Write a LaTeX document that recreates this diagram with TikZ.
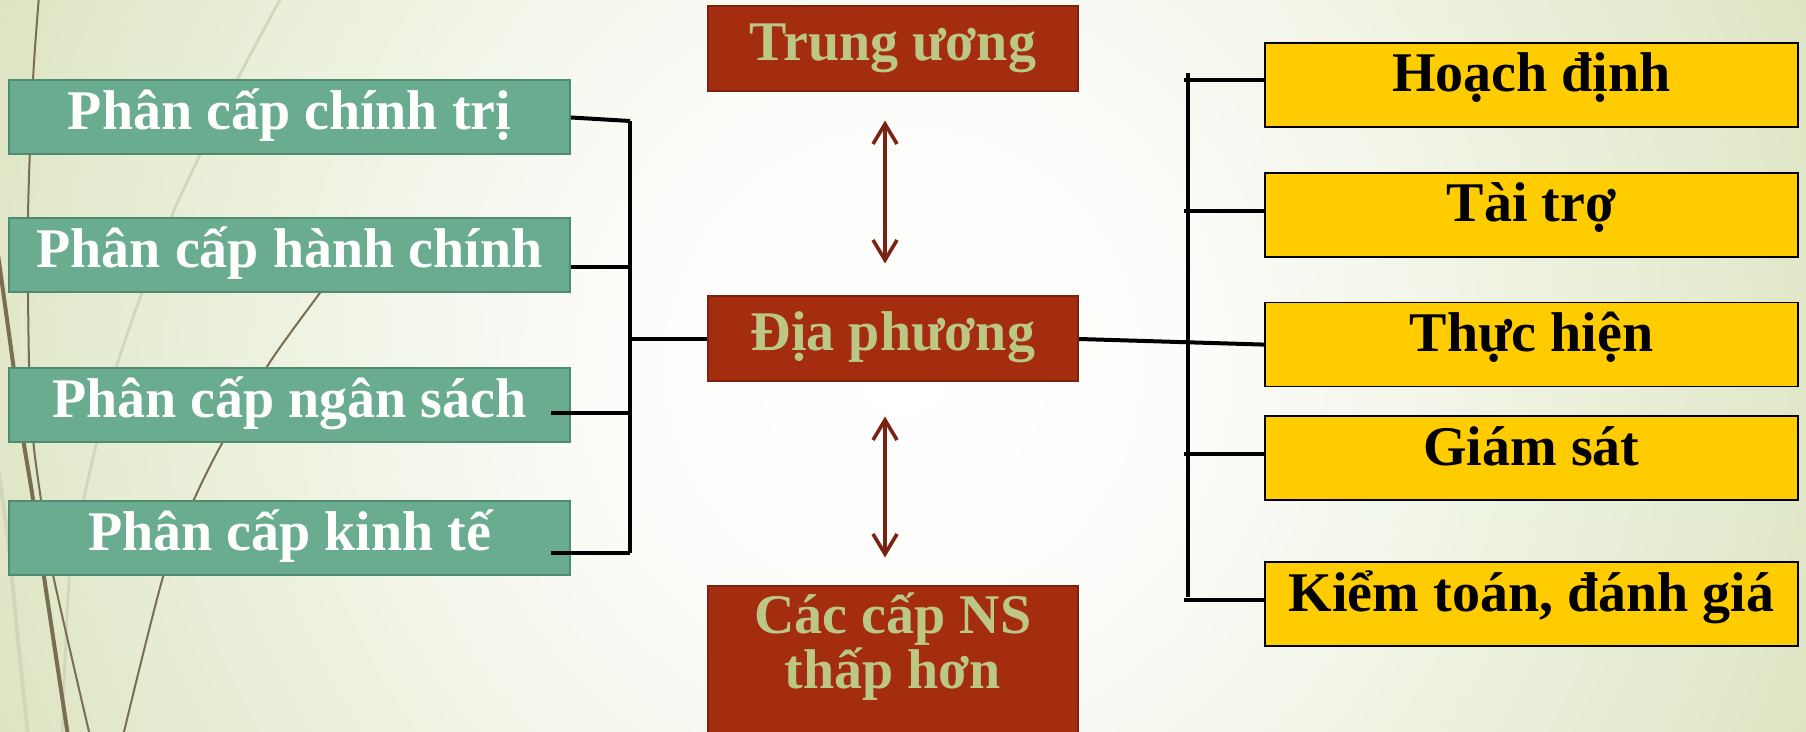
\documentclass[tikz,border=0pt]{standalone}
\usepackage{fontspec}
\setmainfont{Liberation Serif}
\usepackage{tikz}
\usetikzlibrary{positioning}
\usetikzlibrary{arrows.meta}
\usepackage{xcolor}
\definecolor{sidegreen}{HTML}{6AAC90}
\definecolor{sideedge}{HTML}{4E8B71}
\definecolor{levelred}{HTML}{A42D10}
\definecolor{leveledge}{HTML}{7C220E}
\definecolor{leveltext}{HTML}{BCC786}
\definecolor{taskyellow}{HTML}{FFCC00}
\definecolor{arrowred}{HTML}{7A2313}
\definecolor{stalkbrown}{HTML}{7A6D50}
\definecolor{paleleaf}{HTML}{D2D7BB}
\definecolor{bgcentre}{HTML}{FCFCFA}
\definecolor{bglight}{HTML}{F3F6EA}
\definecolor{bgmid}{HTML}{E6ECD2}
\definecolor{bgedge}{HTML}{DDE4C2}
\pgfdeclareradialshading{slidebg}{\pgfpoint{0bp}{0bp}}{color(0bp)=(white); color(8bp)=(bgcentre); color(14bp)=(bglight); color(22bp)=(bgmid); color(27bp)=(bgedge); color(50bp)=(bgedge)}

\begin{document}
\begin{tikzpicture}[
  x=0.5pt, y=-0.5pt,
  font=\bfseries\fontsize{28}{26}\selectfont,
  side/.style={draw=sideedge, line width=1pt, fill=sidegreen, text=white, inner sep=0pt,
    minimum width=280.5pt, minimum height=37pt, text height=19pt, text depth=6.5pt},
  level/.style={draw=leveledge, line width=1pt, fill=levelred, text=leveltext, inner sep=0pt,
    minimum width=185pt, minimum height=42.5pt, text height=19pt, text depth=7pt},
  task/.style={draw=black, line width=0.9pt, fill=taskyellow, inner sep=0pt,
    minimum width=266.5pt, minimum height=42pt, text height=17pt, text depth=10pt},
  link/.style={black, line width=2pt},
  arrow/.style={{Straight Barb[length=10pt,width=12pt]}-{Straight Barb[length=10pt,width=12pt]},
    arrowred, line width=1.8pt},
  stem/.style={stalkbrown, line width=1pt},
  leaf/.style={paleleaf, line width=1.4pt}
]

\useasboundingbox (0,0) rectangle (1806,732);
\clip (0,0) rectangle (1806,732);
\shade[shading=slidebg] (0,-537) rectangle (1806,1269);

% background stalks
\draw[leaf] plot[smooth] coordinates {(282,-4) (237,80) (200,155) (173,213) (143,290) (118,362) (98,438) (85,493) (70,570) (62,736)};
\draw[leaf, line width=2pt] plot[smooth] coordinates {(-4,455) (8,540) (18,640) (28,736)};
\draw[stem] plot[smooth] coordinates {(39,-4) (33,80) (28,217) (29,363) (33,438) (40,493) (52,570) (90,736)};
\draw[stem, line width=2pt] plot[smooth] coordinates {(-4,240) (13,363) (23,438) (32,493) (43,570) (68,736)};
\draw[stem] plot[smooth] coordinates {(345,258) (322,290) (270,362) (225,438) (197,493) (165,570) (123,736)};

\node[side] (pol) at (289.5,117.5) {Phân cấp chính trị};
\node[side, below=31pt of pol] (adm) {Phân cấp hành chính};
\node[side, below=36.75pt of adm] (bud) {Phân cấp ngân sách};
\node[side, below=28.5pt of bud] (eco) {Phân cấp kinh tế};

\node[level] (hub) at (893,339) {Địa phương};
\node[level, above=101.5pt of hub] (central) {Trung ương};
\node[level, below=101.5pt of hub, align=center, text height=51pt, text depth=50pt] (lower) {Các cấp NS\\thấp hơn};

\node[task] (plan) at (1531.5,85) {Hoạch định};
\node[task, below=22pt of plan] (fund) {Tài trợ};
\node[task, below=22pt of fund] (exe) {Thực hiện};
\node[task, below=14pt of exe] (watch) {Giám sát};
\node[task, below=30pt of watch] (audit) {Kiểm toán, đánh giá};

\coordinate (lnorth) at (630,121);
\coordinate (lsouth) at (630,553);
\coordinate (rnorth) at (1188,73);
\coordinate (rsouth) at (1188,597);

\draw[link] (lnorth) -- (lsouth);
\draw[link] (pol.east) -- (lnorth);
\draw[link] ([yshift=-6pt]adm.east) -- +(60,0);
\draw[link] ([xshift=-10pt, yshift=-4pt]bud.east) -- +(80,0);
\draw[link] (lsouth) -- ([xshift=-10pt]eco.east |- lsouth);
\draw[link] (hub.west) -- (hub.west -| lnorth);

\draw[link] (rnorth) -- (rsouth);
\draw[link] (hub.east) -- (exe.west);
\draw[link] ([yshift=2.5pt]plan.west) -- +(-80,0);
\draw[link] ([yshift=2pt]fund.west) -- +(-80,0);
\draw[link] ([yshift=2pt]watch.west) -- +(-80,0);
\draw[link] ([yshift=2pt]audit.west) -- +(-80,0);

\draw[arrow, shorten <=14pt, shorten >=16pt] ([xshift=-4pt]central.south) -- ([xshift=-4pt]hub.north);
\draw[arrow, shorten <=17pt, shorten >=14pt] ([xshift=-4pt]hub.south) -- ([xshift=-4pt]lower.north);

\end{tikzpicture}
\end{document}
